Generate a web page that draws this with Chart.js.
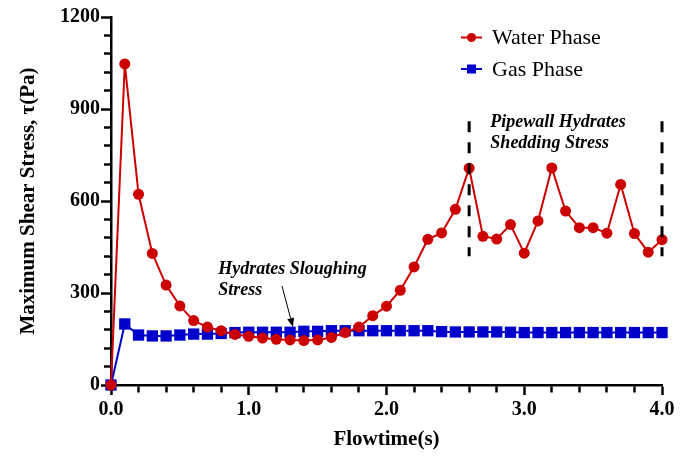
<!DOCTYPE html>
<html>
<head>
<meta charset="utf-8">
<script src="https://cdn.jsdelivr.net/npm/chart.js@4.4.0/dist/chart.umd.min.js"></script>
<style>
  html, body { margin: 0; padding: 0; background: #ffffff; }
  canvas { display: block; }
</style>
</head>
<body>
<canvas id="stressChart" width="693" height="456"></canvas>
<script>
// Flow time samples (s)
const flowtime = [0.0, 0.1, 0.2, 0.3, 0.4, 0.5, 0.6, 0.7, 0.8, 0.9,
                  1.0, 1.1, 1.2, 1.3, 1.4, 1.5, 1.6, 1.7, 1.8, 1.9,
                  2.0, 2.1, 2.2, 2.3, 2.4, 2.5, 2.6, 2.7, 2.8, 2.9,
                  3.0, 3.1, 3.2, 3.3, 3.4, 3.5, 3.6, 3.7, 3.8, 3.9, 4.0];

// Maximum shear stress on the pipe wall, tau (Pa)
const waterPhase = [0, 1047, 622, 429, 326, 258, 210, 189, 177, 165,
                    159, 153, 149, 147, 145, 147, 155, 171, 189, 226,
                    257, 309, 385, 475, 496, 573, 707, 485, 476, 523,
                    430, 535, 708, 567, 513, 513, 495, 654, 494, 433, 474];

const gasPhase = [0, 199, 163, 160, 160, 163, 166, 166, 168, 171,
                  172, 172, 172, 172, 175, 175, 177, 177, 177, 177,
                  177, 177, 177, 177, 174, 173, 173, 173, 173, 172,
                  171, 171, 171, 171, 171, 171, 171, 171, 171, 171, 171];

const seriesNames = ['Water Phase', 'Gas Phase'];
const seriesColors = ['#CC0000', '#0000CC'];

// Axis ticks: labelled majors, unlabelled minors in between
const xMajorTicks = [0.0, 1.0, 2.0, 3.0, 4.0];
const yMajorTicks = [0, 300, 600, 900, 1200];
const xMinorStep = 0.2;
const yMinorStep = 60;

// Annotation content (data units)
const sheddingBounds = [2.6, 4.0];
const sheddingRange = [420, 860];
const sheddingText = ['Pipewall Hydrates', 'Shedding Stress'];
const sheddingTextAt = [2.754, 841, 773];
const sloughingText = ['Hydrates Sloughing', 'Stress'];
const sloughingTextAt = [0.779, 362, 293];
const sloughingArrow = [1.241, 323, 1.321, 189];

const SERIF = '"Liberation Serif", "Times New Roman", serif';

const isMajor = (v, list) => list.some(m => Math.abs(m - v) < 1e-6);

const toPoints = (ys) => flowtime.map((x, i) => ({ x: x, y: ys[i] }));

// Draws the two annotations and the legend on top of the plot
const annotationPlugin = {
  id: 'shearAnnotations',
  afterDatasetsDraw(chart) {
    const ctx = chart.ctx;
    const xs = chart.scales.x;
    const ys = chart.scales.y;
    ctx.save();

    // dashed bounds of the shedding window
    ctx.strokeStyle = '#000000';
    ctx.lineWidth = 3;
    ctx.setLineDash([11, 10]);
    sheddingBounds.forEach(b => {
      const px = xs.getPixelForValue(b);
      ctx.beginPath();
      ctx.moveTo(px, ys.getPixelForValue(sheddingRange[1]));
      ctx.lineTo(px, ys.getPixelForValue(sheddingRange[0]));
      ctx.stroke();
    });
    ctx.setLineDash([]);

    // annotation text
    ctx.fillStyle = '#000000';
    ctx.font = 'italic bold 18px ' + SERIF;
    ctx.textAlign = 'left';
    ctx.textBaseline = 'alphabetic';
    sheddingText.forEach((t, i) => {
      ctx.fillText(t, xs.getPixelForValue(sheddingTextAt[0]), ys.getPixelForValue(sheddingTextAt[i + 1]));
    });
    sloughingText.forEach((t, i) => {
      ctx.fillText(t, xs.getPixelForValue(sloughingTextAt[0]), ys.getPixelForValue(sloughingTextAt[i + 1]));
    });

    // arrow pointing at the sloughing plateau
    const ax1 = xs.getPixelForValue(sloughingArrow[0]);
    const ay1 = ys.getPixelForValue(sloughingArrow[1]);
    const ax2 = xs.getPixelForValue(sloughingArrow[2]);
    const ay2 = ys.getPixelForValue(sloughingArrow[3]);
    const ang = Math.atan2(ay2 - ay1, ax2 - ax1);
    const head = 9, half = 3.5;
    const bx = ax2 - head * Math.cos(ang);
    const by = ay2 - head * Math.sin(ang);
    ctx.lineWidth = 1;
    ctx.beginPath();
    ctx.moveTo(ax1, ay1);
    ctx.lineTo(bx, by);
    ctx.stroke();
    ctx.beginPath();
    ctx.moveTo(ax2, ay2);
    ctx.lineTo(bx + half * Math.sin(ang), by - half * Math.cos(ang));
    ctx.lineTo(bx - half * Math.sin(ang), by + half * Math.cos(ang));
    ctx.closePath();
    ctx.fill();

    // legend: line with marker, then series name
    const legendX = 461, legendY = 37.5, legendGap = 31.5;
    chart.data.datasets.forEach((ds, i) => {
      const y = legendY + i * legendGap;
      ctx.strokeStyle = ds.borderColor;
      ctx.lineWidth = 2;
      ctx.beginPath();
      ctx.moveTo(legendX, y);
      ctx.lineTo(legendX + 21, y);
      ctx.stroke();
      ctx.fillStyle = ds.backgroundColor;
      if (ds.pointStyle === 'rect') {
        ctx.fillRect(legendX + 10.5 - 4.5, y - 4.5, 9, 9);
      } else {
        ctx.beginPath();
        ctx.arc(legendX + 10.5, y, 4.5, 0, Math.PI * 2);
        ctx.fill();
      }
      ctx.fillStyle = '#000000';
      ctx.font = '22px ' + SERIF;
      ctx.textBaseline = 'middle';
      ctx.fillText(ds.label, legendX + 31, y + 1);
    });

    ctx.restore();
  }
};

new Chart(document.getElementById('stressChart'), {
  type: 'line',
  data: {
    datasets: [
      {
        label: seriesNames[0],
        data: toPoints(waterPhase),
        borderColor: seriesColors[0],
        backgroundColor: seriesColors[0],
        borderWidth: 2,
        pointStyle: 'circle',
        pointRadius: 5.5,
        pointBorderWidth: 0,
        tension: 0,
        clip: false
      },
      {
        label: seriesNames[1],
        data: toPoints(gasPhase),
        borderColor: seriesColors[1],
        backgroundColor: seriesColors[1],
        borderWidth: 2,
        pointStyle: 'rect',
        pointRadius: 8,
        pointBorderWidth: 0,
        tension: 0,
        clip: false
      }
    ]
  },
  options: {
    responsive: false,
    animation: false,
    devicePixelRatio: 1,
    layout: { padding: { top: 17, right: 31, left: 0, bottom: 0 } },
    plugins: {
      legend: { display: false },
      tooltip: { enabled: false }
    },
    scales: {
      x: {
        type: 'linear',
        min: 0,
        max: 4,
        afterFit(scale) { scale.height = 71; },
        border: { display: true, color: '#000000', width: 2.5 },
        grid: {
          drawOnChartArea: false,
          drawTicks: true,
          tickLength: 10,
          tickColor: '#000000',
          tickWidth: 2.5,
          tickBorderDash: (c) => isMajor(c.tick.value, xMajorTicks) ? [] : [6, 100]
        },
        ticks: {
          stepSize: xMinorStep,
          autoSkip: false,
          maxRotation: 0,
          padding: 3,
          color: '#000000',
          font: { family: SERIF, size: 20, weight: 'bold' },
          callback: (v) => isMajor(v, xMajorTicks) ? Number(v).toFixed(1) : ''
        },
        title: {
          display: true,
          text: 'Flowtime(s)',
          color: '#000000',
          font: { family: SERIF, size: 21, weight: 'bold' },
          padding: { top: 0, bottom: 4 }
        }
      },
      y: {
        type: 'linear',
        min: 0,
        max: 1200,
        afterFit(scale) { scale.width = 111; },
        border: { display: true, color: '#000000', width: 2.5 },
        grid: {
          drawOnChartArea: false,
          drawTicks: true,
          tickLength: 10,
          tickColor: '#000000',
          tickWidth: 2.5,
          tickBorderDash: (c) => isMajor(c.tick.value, yMajorTicks) ? [] : [0, 3, 7, 100]
        },
        ticks: {
          stepSize: yMinorStep,
          autoSkip: false,
          padding: 1,
          color: '#000000',
          font: { family: SERIF, size: 20, weight: 'bold' },
          callback: (v) => isMajor(v, yMajorTicks) ? String(v) : ''
        },
        title: {
          display: true,
          text: 'Maximum Shear Stress, τ(Pa)',
          color: '#000000',
          font: { family: SERIF, size: 21, weight: 'bold' },
          padding: { top: 16, bottom: 0 }
        }
      }
    }
  },
  plugins: [annotationPlugin]
});
</script>
</body>
</html>
